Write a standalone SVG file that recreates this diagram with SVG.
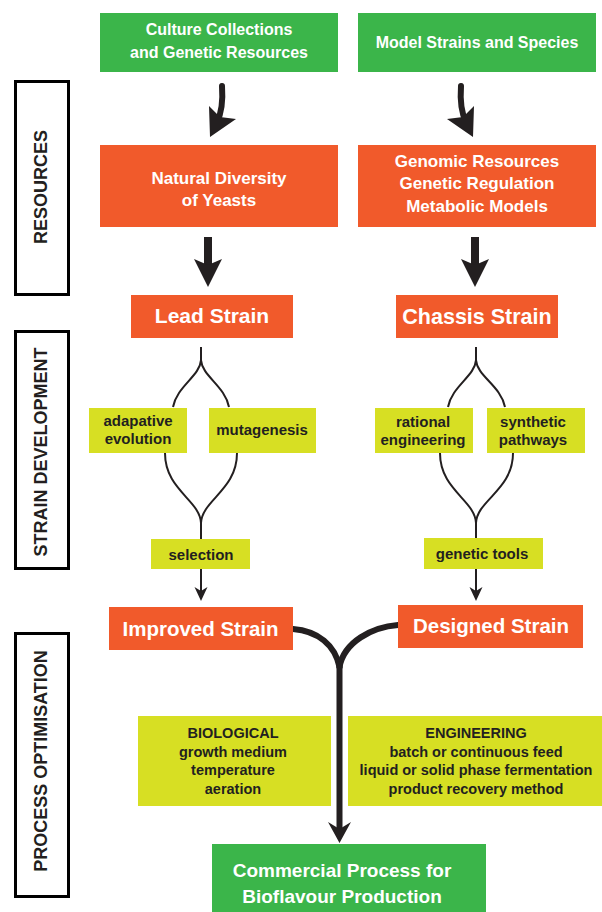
<svg xmlns="http://www.w3.org/2000/svg" width="602" height="912" viewBox="0 0 602 912">
<style>
.g{fill:#3bb54a}
.o{fill:#f15a2b}
.y{fill:#d7df23}
.t{font-family:"Liberation Sans",Arial,sans-serif;font-weight:bold;text-anchor:middle}
.w{fill:#ffffff}
.d{fill:#231f20}
.side{fill:#ffffff;stroke:#000000;stroke-width:3}
.ln{fill:none;stroke:#231f20;stroke-width:2}
.thk{fill:none;stroke:#231f20;stroke-width:6;stroke-linecap:round}
.ah{fill:#231f20}
</style>
<rect width="602" height="912" fill="#ffffff"/>

<g id="label-resources">
<rect class="side" x="15.5" y="81.5" width="53" height="213"/>
<text class="t d" font-size="18" transform="translate(46.5,187) rotate(-90)">RESOURCES</text>
</g>
<g id="label-strain-development">
<rect class="side" x="15.5" y="331.5" width="53" height="237"/>
<text class="t d" font-size="18" transform="translate(46.5,452) rotate(-90)">STRAIN DEVELOPMENT</text>
</g>
<g id="label-process-optimisation">
<rect class="side" x="15.5" y="633.5" width="53" height="263"/>
<text class="t d" font-size="18" transform="translate(46.5,761) rotate(-90)">PROCESS OPTIMISATION</text>
</g>

<g id="connectors">
<!-- curved arrows top -->
<g id="arrow-culture">
<path class="thk" d="M222,86 C223,100 222,112 217,122"/>
<polygon class="ah" points="209,106 210,137 236,119 220,117"/>
</g>
<g id="arrow-model" transform="translate(683,0) scale(-1,1)">
<path class="thk" d="M222,86 C223,100 222,112 217,122"/>
<polygon class="ah" points="209,106 210,137 236,119 220,117"/>
</g>
<!-- straight thick arrows -->
<line x1="208" y1="237" x2="208" y2="266" stroke="#231f20" stroke-width="8"/>
<polygon class="ah" points="194,259 208,287 222,259 208,265"/>
<line x1="475" y1="237" x2="475" y2="266" stroke="#231f20" stroke-width="8"/>
<polygon class="ah" points="461,259 475,287 489,259 475,265"/>
<!-- left lens -->
<path class="ln" d="M201,347 V360 C200,376 177,386 173,407"/>
<path class="ln" d="M201,360 C202,376 225,386 229,407"/>
<path class="ln" d="M165,453 C165,490 200,500 201,523 V539"/>
<path class="ln" d="M237,453 C237,490 202,500 201,523"/>
<line class="ln" x1="201" y1="569" x2="201" y2="592"/>
<polygon class="ah" points="194.5,587 201,601 207.5,587 201,591"/>
<!-- right lens -->
<path class="ln" d="M476,347 V360 C475,376 452,386 448,407"/>
<path class="ln" d="M476,360 C477,376 501,386 505,407"/>
<path class="ln" d="M440,453 C440,490 475,500 476,523 V538"/>
<path class="ln" d="M513,453 C513,490 477,500 476,523"/>
<line class="ln" x1="476" y1="569" x2="476" y2="592"/>
<polygon class="ah" points="469.5,587 476,601 482.5,587 476,591"/>
<!-- Y connector -->
<path class="thk" stroke-linecap="butt" d="M293,629 C318,631 335,645 339.5,667"/>
<path class="thk" stroke-linecap="butt" d="M398,625 C372,627 344,642 339.5,667"/>
<path class="thk" stroke-linecap="butt" d="M339.5,664 V830"/>
<polygon class="ah" points="328,822 339.5,843 351,822 339.5,829"/>
</g>

<g id="culture-collections">
<rect class="g" x="100" y="13" width="238" height="59"/>
<text class="t w" font-size="16" x="219" y="35">Culture Collections</text>
<text class="t w" font-size="16" x="219" y="58">and Genetic Resources</text>
</g>
<g id="model-strains">
<rect class="g" x="358" y="13" width="238" height="59"/>
<text class="t w" font-size="16" x="477" y="48">Model Strains and Species</text>
</g>
<g id="natural-diversity">
<rect class="o" x="100" y="145" width="238" height="82"/>
<text class="t w" font-size="17" x="219" y="184">Natural Diversity</text>
<text class="t w" font-size="17" x="219" y="206">of Yeasts</text>
</g>
<g id="genomic-resources">
<rect class="o" x="358" y="145" width="238" height="82"/>
<text class="t w" font-size="17" x="477" y="167">Genomic Resources</text>
<text class="t w" font-size="17" x="477" y="189">Genetic Regulation</text>
<text class="t w" font-size="17" x="477" y="212">Metabolic Models</text>
</g>
<g id="lead-strain">
<rect class="o" x="131" y="295" width="162" height="43"/>
<text class="t w" font-size="21" x="212" y="323">Lead Strain</text>
</g>
<g id="chassis-strain">
<rect class="o" x="396" y="295" width="162" height="43"/>
<text class="t w" font-size="21.5" x="477" y="324">Chassis Strain</text>
</g>
<g id="adaptive-evolution">
<rect class="y" x="89" y="408" width="98" height="45"/>
<text class="t d" font-size="15" x="138" y="426">adapative</text>
<text class="t d" font-size="15" x="138" y="444">evolution</text>
</g>
<g id="mutagenesis">
<rect class="y" x="209" y="408" width="107" height="45"/>
<text class="t d" font-size="15" x="262" y="435">mutagenesis</text>
</g>
<g id="rational-engineering">
<rect class="y" x="375" y="408" width="98" height="45"/>
<text class="t d" font-size="15" x="423" y="427">rational</text>
<text class="t d" font-size="15" x="423" y="445">engineering</text>
</g>
<g id="synthetic-pathways">
<rect class="y" x="487" y="408" width="98" height="45"/>
<text class="t d" font-size="15" x="533" y="427">synthetic</text>
<text class="t d" font-size="15" x="533" y="445">pathways</text>
</g>
<g id="selection">
<rect class="y" x="151" y="539" width="99" height="30"/>
<text class="t d" font-size="15" x="201" y="560">selection</text>
</g>
<g id="genetic-tools">
<rect class="y" x="424" y="538" width="119" height="31"/>
<text class="t d" font-size="15" x="482" y="559">genetic tools</text>
</g>
<g id="improved-strain">
<rect class="o" x="109" y="607" width="184" height="43"/>
<text class="t w" font-size="20.5" x="200.5" y="636">Improved Strain</text>
</g>
<g id="designed-strain">
<rect class="o" x="398" y="605" width="185" height="43"/>
<text class="t w" font-size="20.5" x="491" y="633">Designed Strain</text>
</g>
<g id="biological">
<rect class="y" x="138" y="716" width="193" height="90"/>
<text class="t d" font-size="14.5" x="233" y="738">BIOLOGICAL</text>
<text class="t d" font-size="14.5" x="233" y="757">growth medium</text>
<text class="t d" font-size="14.5" x="233" y="775">temperature</text>
<text class="t d" font-size="14.5" x="233" y="794">aeration</text>
</g>
<g id="engineering">
<rect class="y" x="348" y="716" width="254" height="90"/>
<text class="t d" font-size="14.5" x="476" y="738">ENGINEERING</text>
<text class="t d" font-size="14.5" x="476" y="757">batch or continuous feed</text>
<text class="t d" font-size="14.5" x="476" y="775">liquid or solid phase fermentation</text>
<text class="t d" font-size="14.5" x="476" y="794">product recovery method</text>
</g>
<g id="commercial-process">
<rect class="g" x="212" y="844" width="274" height="68"/>
<text class="t w" font-size="19" x="342" y="877">Commercial Process for</text>
<text class="t w" font-size="19" x="342" y="903">Bioflavour Production</text>
</g>
</svg>
